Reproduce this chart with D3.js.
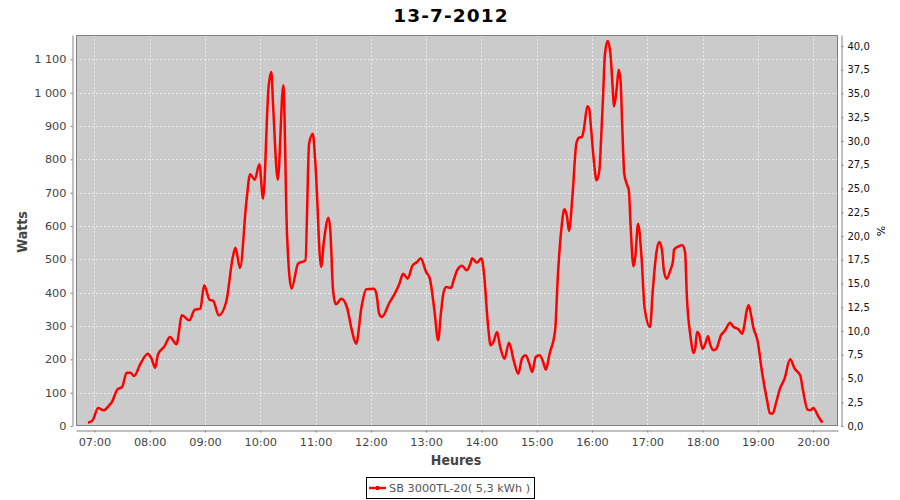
<!DOCTYPE html>
<html>
<head>
<meta charset="utf-8">
<script src="https://cdn.jsdelivr.net/npm/d3@7/dist/d3.min.js"></script>
<style>
  html, body { margin: 0; padding: 0; background: #ffffff; }
  svg { display: block; }
</style>
</head>
<body>
<svg id="chart" width="900" height="500"></svg>
<script>
// ---- DATA ----
const chartTitle = "13-7-2012";
const seriesName = "SB 3000TL-20( 5,3 kWh )";
const xAxisLabel = "Heures";
const yAxisLabel = "Watts";
const y2AxisLabel = "%";

const times = [
  "06:53","06:58","07:04","07:10","07:16","07:19","07:25","07:30","07:35","07:39",
  "07:43","07:50","07:58","08:02","08:06","08:09","08:16","08:22","08:29","08:35",
  "08:43","08:49","08:55","08:59","09:05","09:09","09:15","09:23","09:30","09:33",
  "09:38","09:45","09:49","09:54","09:59","10:03","10:09","10:12","10:14","10:19",
  "10:25","10:29","10:34","10:41","10:49","10:53","10:57","11:00","11:06","11:09",
  "11:14","11:16","11:19","11:22","11:28","11:34","11:39","11:44","11:50","11:55",
  "12:03","12:06","12:09","12:12","12:20","12:26","12:31","12:35","12:40","12:45",
  "12:50","12:54","13:00","13:04","13:09","13:13","13:16","13:19","13:22","13:27",
  "13:30","13:34","13:39","13:44","13:48","13:50","13:55","14:00","14:03","14:07",
  "14:10","14:13","14:17","14:20","14:25","14:30","14:35","14:40","14:44","14:48",
  "14:52","14:55","14:59","15:03","15:07","15:10","15:14","15:20","15:23","15:27",
  "15:30","15:33","15:35","15:39","15:43","15:46","15:49","15:51","15:55","15:57",
  "15:59","16:02","16:05","16:08","16:10","16:12","16:14","16:17","16:20","16:22",
  "16:24","16:27","16:29","16:31","16:33","16:35","16:38","16:40","16:42","16:45",
  "16:47","16:50","16:54","16:57","17:03","17:06","17:10","17:13","17:16","17:18",
  "17:21","17:25","17:28","17:29","17:34","17:38","17:41","17:43","17:47","17:50",
  "17:52","17:54","17:56","18:00","18:03","18:06","18:08","18:12","18:15","18:20",
  "18:24","18:30","18:33","18:39","18:43","18:45","18:48","18:50","18:52","18:55",
  "19:00","19:04","19:10","19:13","19:16","19:20","19:24","19:29","19:35","19:40",
  "19:46","19:49","19:54","19:57","20:00","20:06","20:10"
];
const watts = [
  10,17,54,47,62,72,110,117,160,160,
  150,187,217,202,175,215,239,267,245,332,
  317,349,352,422,379,375,332,372,504,535,
  474,675,755,739,785,682,1017,1062,957,739,
  1022,577,412,487,497,847,877,779,477,552,
  625,587,407,365,382,357,292,247,359,410,
  412,397,337,327,369,397,427,457,442,480,
  492,503,462,442,347,257,337,402,417,414,
  439,469,481,467,487,503,490,503,452,307,
  242,252,282,242,202,250,197,157,202,212,
  187,162,207,212,192,169,217,287,452,597,
  650,627,585,697,847,865,867,887,959,952,
  892,797,737,767,867,987,1112,1155,1117,1037,
  959,1017,1069,1037,887,757,724,707,597,479,
  507,607,497,357,297,407,522,552,527,467,
  442,467,497,529,539,542,522,387,267,219,
  232,282,277,232,247,269,247,227,232,272,
  285,310,299,290,277,297,347,362,342,297,
  252,172,77,39,37,72,112,142,200,172,
  152,107,49,47,54,27,10
];
const wattTicks = [0,100,200,300,400,500,600,700,800,900,1000,1100];
const pctTicks = [0,2.5,5,7.5,10,12.5,15,17.5,20,22.5,25,27.5,30,32.5,35,37.5,40];
const hourTicks = ["07:00","08:00","09:00","10:00","11:00","12:00","13:00","14:00","15:00","16:00","17:00","18:00","19:00","20:00"];
const xDomain = ["06:40","20:27"];
const wattMax = 1173;
const pctMax = 41.16;

// ---- LAYOUT ----
const plot = { left: 76, right: 838, top: 35, bottom: 426 };
const svg = d3.select("#chart");
const parseT = d3.timeParse("%Y-%m-%d %H:%M");
const toDate = s => parseT("2012-07-13 " + s);

const x = d3.scaleTime().domain(xDomain.map(toDate)).range([plot.left, plot.right]);
const y = d3.scaleLinear().domain([0, wattMax]).range([plot.bottom, plot.top]);
const y2 = d3.scaleLinear().domain([0, pctMax]).range([plot.bottom, plot.top]);

const data = times.map((t, i) => ({ t: toDate(t), v: watts[i] }));
const labelFont = "'DejaVu Sans Condensed', 'DejaVu Sans', sans-serif";

// Title
svg.append("text")
  .attr("x", 451).attr("y", 22)
  .attr("text-anchor", "middle")
  .style("font-family", "DejaVu Sans, sans-serif")
  .style("font-weight", "bold")
  .style("font-size", "18.5px")
  .style("letter-spacing", "1.1px")
  .attr("fill", "#000")
  .text(chartTitle);

// Plot background
svg.append("rect")
  .attr("x", plot.left).attr("y", plot.top)
  .attr("width", plot.right - plot.left).attr("height", plot.bottom - plot.top)
  .attr("fill", "#cbcbcb");

// Gridlines
const grid = svg.append("g").attr("stroke", "#f2f2f2").attr("stroke-width", 0.8)
  .attr("stroke-dasharray", "2,2").attr("shape-rendering", "crispEdges");
grid.selectAll("line.h").data(wattTicks.filter(d => d > 0)).enter().append("line")
  .attr("x1", plot.left).attr("x2", plot.right)
  .attr("y1", d => Math.round(y(d)) + 0.5).attr("y2", d => Math.round(y(d)) + 0.5);
grid.selectAll("line.v").data(hourTicks.map(toDate)).enter().append("line")
  .attr("y1", plot.top).attr("y2", plot.bottom)
  .attr("x1", d => Math.round(x(d)) + 0.5).attr("x2", d => Math.round(x(d)) + 0.5);

// Line
svg.append("clipPath").attr("id", "clip").append("rect")
  .attr("x", plot.left).attr("y", plot.top)
  .attr("width", plot.right - plot.left).attr("height", plot.bottom - plot.top);
const line = d3.line().x(d => x(d.t)).y(d => y(d.v)).curve(d3.curveMonotoneX);
svg.append("path").datum(data)
  .attr("clip-path", "url(#clip)")
  .attr("fill", "none").attr("stroke", "#ff0000")
  .attr("stroke-width", 2.5).attr("stroke-linejoin", "round")
  .attr("d", line);

// Plot outline
svg.append("rect")
  .attr("x", plot.left + 0.5).attr("y", plot.top + 0.5)
  .attr("width", plot.right - plot.left - 1).attr("height", plot.bottom - plot.top - 1)
  .attr("fill", "none").attr("stroke", "#808080").attr("stroke-width", 1);

// Axes
const fmtW = d3.formatLocale({ decimal: ",", thousands: " ", grouping: [3], currency: ["", ""] }).format(",d");
const fmtP = d => d3.format(".1f")(d).replace(".", ",");
const fmtH = d3.timeFormat("%H:%M");

function styleAxis(g, color, size) {
  g.select(".domain").attr("stroke", "#808080");
  g.selectAll(".tick line").attr("stroke", "#808080");
  g.selectAll(".tick text").attr("fill", color)
    .style("font-family", "DejaVu Sans, sans-serif").style("font-size", size);
}

const gL = svg.append("g").attr("transform", "translate(72.5,0)")
  .call(d3.axisLeft(y).tickValues(wattTicks).tickFormat(fmtW).tickSize(2).tickSizeOuter(0).tickPadding(4));
styleAxis(gL, "#444", "11.3px");

const gB = svg.append("g").attr("transform", "translate(0,430.5)")
  .call(d3.axisBottom(x).tickValues(hourTicks.map(toDate)).tickFormat(fmtH).tickSize(2).tickSizeOuter(0).tickPadding(5));
styleAxis(gB, "#444", "11.3px");

const gR = svg.append("g").attr("transform", "translate(841.5,0)")
  .call(d3.axisRight(y2).tickValues(pctTicks).tickFormat(fmtP).tickSize(2).tickSizeOuter(0).tickPadding(4));
styleAxis(gR, "#111", "10px");

// Axis labels
svg.append("text")
  .attr("x", 456).attr("y", 465)
  .attr("text-anchor", "middle")
  .style("font-family", labelFont).style("font-weight", "bold").style("font-size", "14px")
  .attr("fill", "#444").text(xAxisLabel);

svg.append("text")
  .attr("transform", "translate(27,232) rotate(-90)")
  .attr("text-anchor", "middle")
  .style("font-family", labelFont).style("font-weight", "bold").style("font-size", "14px")
  .attr("fill", "#444").text(yAxisLabel);

svg.append("text")
  .attr("transform", "translate(885,231) rotate(-90)")
  .attr("text-anchor", "middle")
  .style("font-family", "DejaVu Sans, sans-serif").style("font-size", "11px")
  .attr("fill", "#000").text(y2AxisLabel);

// Legend
const lg = svg.append("g");
lg.append("rect").attr("x", 366.5).attr("y", 477.5).attr("width", 168).attr("height", 21)
  .attr("fill", "#fff").attr("stroke", "#000").attr("stroke-width", 1);
lg.append("line").attr("x1", 369).attr("x2", 386).attr("y1", 488).attr("y2", 488)
  .attr("stroke", "#ff0000").attr("stroke-width", 2.5);
lg.append("rect").attr("x", 376).attr("y", 486).attr("width", 3).attr("height", 4).attr("fill", "#ff0000");
lg.append("text").attr("x", 389).attr("y", 492)
  .style("font-family", "DejaVu Sans, sans-serif").style("font-size", "11.3px")
  .attr("fill", "#555").text(seriesName);
</script>
</body>
</html>
